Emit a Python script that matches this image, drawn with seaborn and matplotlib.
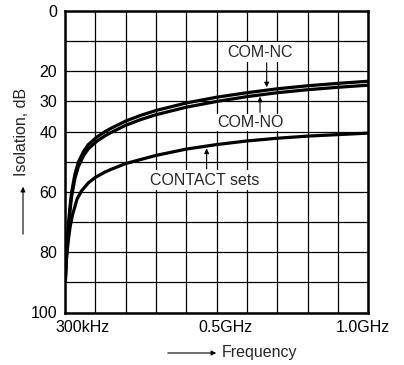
import matplotlib
matplotlib.use("Agg")
import matplotlib.pyplot as plt
import seaborn as sns
import pandas as pd

# Frequency in GHz (left edge = 300 kHz)
freq_com = [0.0, 0.002, 0.0056, 0.011, 0.0165, 0.022, 0.033, 0.044, 0.061, 0.077,
            0.105, 0.132, 0.15, 0.2, 0.25, 0.3, 0.4, 0.5, 0.6, 0.7, 0.8, 0.9, 1.0]
com_nc = [88.3, 87.5, 78.6, 71.0, 64.9, 60.0, 54.0, 50.2, 46.6, 44.3,
          41.8, 40.0, 39.0, 36.5, 34.6, 33.0, 30.5, 28.6, 27.1, 25.8, 24.8, 24.0, 23.3]
com_no = [89.7, 88.9, 80.0, 72.4, 66.3, 61.4, 55.4, 51.6, 48.0, 45.7,
          43.2, 41.4, 40.4, 37.9, 36.0, 34.4, 31.9, 30.0, 28.4, 27.1, 26.1, 25.3, 24.6]

freq_contact = [0.0, 0.004, 0.011, 0.017, 0.025, 0.04, 0.055, 0.077, 0.1, 0.13,
                0.15, 0.2, 0.3, 0.4, 0.5, 0.6, 0.7, 0.8, 0.9, 1.0]
contact = [89, 83, 76, 71.5, 67.5, 62.3, 59.6, 57.0, 55.2, 53.5,
           52.6, 50.6, 47.9, 45.8, 44.3, 43.1, 42.2, 41.5, 41.0, 40.5]

ytick_vals = [0, 10, 20, 30, 40, 50, 60, 70, 80, 90, 100]
ytick_labels = ["0", "", "20", "30", "40", "", "60", "", "80", "", "100"]
grid_x = [0.0, 0.1, 0.2, 0.3, 0.4, 0.5, 0.6, 0.7, 0.8, 0.9, 1.0]
xlabel_vals = [0.0, 0.5, 1.0]
xtick_labels = ["300kHz", "0.5GHz", "1.0GHz"]

sns.set_style("white")
plt.rcParams["font.family"] = ["Liberation Sans", "DejaVu Sans"]

df = pd.concat([
    pd.DataFrame({"f": freq_com, "iso": com_nc, "series": "COM-NC"}),
    pd.DataFrame({"f": freq_com, "iso": com_no, "series": "COM-NO"}),
    pd.DataFrame({"f": freq_contact, "iso": contact, "series": "CONTACT sets"}),
])

FS = 11.5
fig = plt.figure(figsize=(4.04, 3.65), dpi=100)
ax = fig.add_axes([65.0 / 404, 1 - 312.5 / 365, (368.3 - 65.0) / 404, (312.5 - 11) / 365])

sns.lineplot(data=df, x="f", y="iso", units="series", estimator=None,
             color="black", lw=2.3, ax=ax, legend=False, zorder=4)

ax.set_xlim(0, 1.0)
ax.set_ylim(100, 0)
# grid via minor ticks, labels shifted like the original artwork
ax.set_xticks(grid_x, minor=True)
label_shift = [0.058, 0.028, -0.018]  # layout offsets in axis units
ax.set_xticks([v + s for v, s in zip(xlabel_vals, label_shift)])
ax.set_xticklabels(xtick_labels)
ax.set_yticks(ytick_vals)
ax.set_yticklabels(ytick_labels)
ax.tick_params(axis="both", which="both", length=0, labelsize=FS, colors="black", pad=5.5)
ax.grid(False)
ax.grid(True, which="minor", axis="x", color="black", lw=0.9)
ax.grid(True, which="major", axis="y", color="black", lw=0.9)
ax.set_axisbelow(True)
for s in ax.spines.values():
    s.set_color("black")
    s.set_linewidth(1.8)
ax.set_xlabel("")
ax.set_ylabel("")

box = dict(facecolor="white", edgecolor="none", pad=2.0)
box_small = dict(facecolor="white", edgecolor="none", pad=1.0)
arrow = dict(arrowstyle="-|>", color="black", lw=0.8, mutation_scale=7, shrinkA=0, shrinkB=0)

ax.text(0.642, 13.6, "COM-NC", ha="center", va="center", fontsize=FS, bbox=box, zorder=5)
ax.annotate("", xy=(0.665, 25.3), xytext=(0.665, 17.2), arrowprops=arrow, zorder=5)

ax.text(0.61, 37.0, "COM-NO", ha="center", va="center", fontsize=FS, bbox=box_small, zorder=5)
ax.annotate("", xy=(0.643, 28.4), xytext=(0.643, 33.6), arrowprops=arrow, zorder=5)

ax.text(0.459, 56.1, "CONTACT sets", ha="center", va="center", fontsize=FS, bbox=box, zorder=5)
ax.annotate("", xy=(0.467, 45.6), xytext=(0.467, 52.4), arrowprops=arrow, zorder=5)

# axis titles with arrows
fig.text(22 / 404, 1 - 132 / 365, "Isolation, dB", rotation=90, ha="center", va="center", fontsize=FS)
fig.patches.append(matplotlib.patches.FancyArrowPatch(
    (23 / 404, 1 - 237 / 365), (23 / 404, 1 - 184 / 365), transform=fig.transFigure,
    arrowstyle="-|>", mutation_scale=7, color="black", lw=0.8))
fig.text(222 / 404, 1 - 353 / 365, "Frequency", ha="left", va="center", fontsize=FS)
fig.patches.append(matplotlib.patches.FancyArrowPatch(
    (165 / 404, 1 - 353 / 365), (219 / 404, 1 - 353 / 365), transform=fig.transFigure,
    arrowstyle="-|>", mutation_scale=7, color="black", lw=0.8))

fig.savefig("out.png", dpi=100, facecolor="white")
